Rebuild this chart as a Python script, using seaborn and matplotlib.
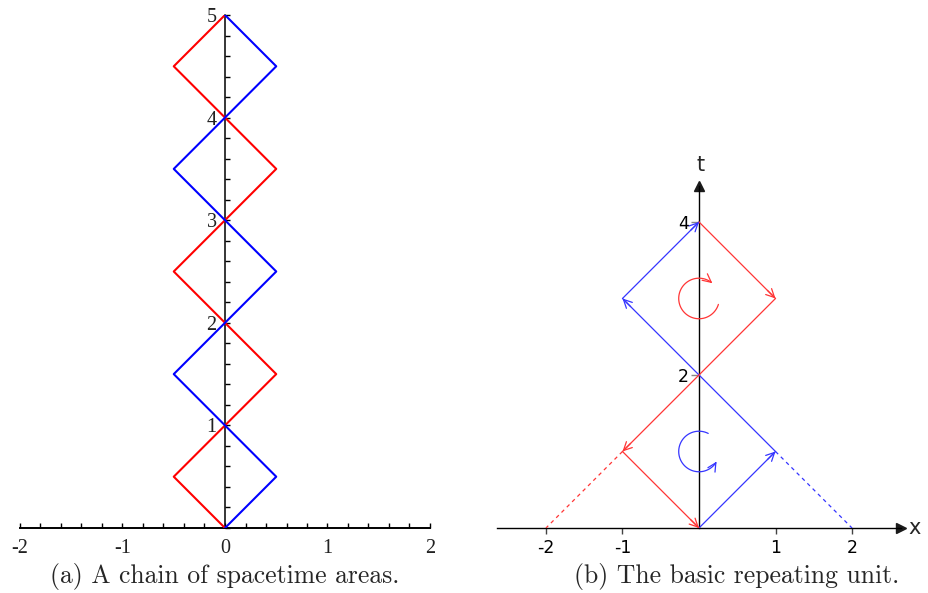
"""Spacetime chain of diamonds (a) and its basic repeating unit (b)."""
import matplotlib
matplotlib.use("Agg")
import matplotlib.pyplot as plt
from matplotlib.patches import FancyArrowPatch
from matplotlib.path import Path
from matplotlib.ticker import MultipleLocator
import numpy as np
import pandas as pd
import seaborn as sns

# (a) chain of diamonds, one per unit of t
CHAIN_LEVELS = [0, 1, 2, 3, 4]
CHAIN_LEFT_COLOR = ["red", "blue", "red", "blue", "red"]
CHAIN_RIGHT_COLOR = ["blue", "red", "blue", "red", "blue"]
CHAIN_HALF_WIDTH = 0.5

# (b) oriented edges of the repeating unit
UNIT_X0 = [0, 1, -1, 0, 1, -1]
UNIT_T0 = [0, 1, 3, 4, 3, 1]
UNIT_X1 = [1, -1, 0, 1, -1, 0]
UNIT_T1 = [1, 3, 4, 3, 1, 0]
UNIT_COLOR = ["blue", "blue", "blue", "red", "red", "red"]

# (b) dashed light-cone continuations
DASH_X0 = [-1, 1]
DASH_T0 = [1, 1]
DASH_X1 = [-2, 2]
DASH_T1 = [0, 0]
DASH_COLOR = ["red", "blue"]

# (b) circulation arrows
LOOP_T = [3, 1]
LOOP_COLOR = ["red", "blue"]
LOOP_START_DEG = [-17, 63]
LOOP_END_DEG = [-311, 330]
LOOP_RADIUS = 0.265

A_TICKS_X = [-2, -1, 0, 1, 2]
A_TICKS_T = [1, 2, 3, 4, 5]
B_TICKS_X = [-2, -1, 1, 2]
B_TICKS_T = [2, 4]

PAL_A = {"red": "#ff0000", "blue": "#0000ff"}
PAL_B = {"red": "#ff3535", "blue": "#3535ff"}

sns.set_theme(style="white")
plt.rcParams["font.family"] = ["DejaVu Sans"]

fig = plt.figure(figsize=(9.29, 5.93), dpi=100)
W, H = 929, 593

# ---------------- panel (a) ----------------
ax_a = fig.add_axes([20 / W, 65 / H, 410 / W, 513 / H])
rows = []
for k, cl, cr in zip(CHAIN_LEVELS, CHAIN_LEFT_COLOR, CHAIN_RIGHT_COLOR):
    for side, c in ((-1, cl), (1, cr)):
        seg = f"{k}{side}"
        for xv, tv in ((0, k), (side * CHAIN_HALF_WIDTH, k + CHAIN_HALF_WIDTH), (0, k + 1)):
            rows.append({"x": xv, "t": tv, "seg": seg, "color": c})
chain = pd.DataFrame(rows)
sns.lineplot(data=chain, x="x", y="t", units="seg", hue="color", palette=PAL_A,
             estimator=None, sort=False, legend=False, lw=1.5, ax=ax_a, zorder=3)

ax_a.set_xlim(-2, 2)
ax_a.set_ylim(0, 5)
for s in ("top", "right"):
    ax_a.spines[s].set_visible(False)
ax_a.spines["left"].set_position(("data", 0))
ax_a.spines["left"].set_linewidth(1.1)
ax_a.spines["bottom"].set_linewidth(1.4)
for s in ("left", "bottom"):
    ax_a.spines[s].set_color("black")
ax_a.set_xticks(A_TICKS_X)
ax_a.set_xticklabels([str(v) for v in A_TICKS_X])
ax_a.set_yticks(A_TICKS_T)
ax_a.set_yticklabels([str(v) for v in A_TICKS_T])
ax_a.xaxis.set_minor_locator(MultipleLocator(0.2))
ax_a.yaxis.set_minor_locator(MultipleLocator(0.2))
ax_a.tick_params(which="both", direction="in", length=3.5, width=1, color="black",
                 bottom=True, left=True)
ax_a.tick_params(axis="both", which="major", labelsize=14.5, labelcolor="#222222",
                 labelfontfamily="Liberation Serif")
ax_a.tick_params(axis="x", pad=8)
ax_a.tick_params(axis="y", pad=6)
ax_a.set_xlabel("")
ax_a.set_ylabel("")
ax_a.patch.set_alpha(0)

# ---------------- panel (b) ----------------
ax_b = fig.add_axes([497 / W, 65 / H, 404 / W, 342 / H])
unit = pd.DataFrame({
    "x": UNIT_X0 + UNIT_X1,
    "t": UNIT_T0 + UNIT_T1,
    "seg": list(range(len(UNIT_X0))) * 2,
    "color": UNIT_COLOR * 2,
})
sns.lineplot(data=unit, x="x", y="t", units="seg", hue="color", palette=PAL_B,
             estimator=None, sort=False, legend=False, lw=0.9, ax=ax_b, zorder=3)
dash = pd.DataFrame({
    "x": DASH_X0 + DASH_X1,
    "t": DASH_T0 + DASH_T1,
    "seg": list(range(len(DASH_X0))) * 2,
    "color": DASH_COLOR * 2,
})
sns.lineplot(data=dash, x="x", y="t", units="seg", hue="color", palette=PAL_B,
             estimator=None, sort=False, legend=False, lw=0.9, ax=ax_b,
             linestyle=(0, (3, 3)), zorder=3)

head = "->,head_length=0.6,head_width=0.3"
for x0, t0, x1, t1, c in zip(UNIT_X0, UNIT_T0, UNIT_X1, UNIT_T1, UNIT_COLOR):
    dx, dt = (x1 - x0), (t1 - t0)
    n = np.hypot(dx, dt)
    ax_b.annotate("", xy=(x1, t1), xytext=(x1 - 0.15 * dx / n, t1 - 0.15 * dt / n),
                  arrowprops=dict(arrowstyle=head, color=PAL_B[c], lw=0.9,
                                  shrinkA=0, shrinkB=0, mutation_scale=10),
                  zorder=4)

for tc, c, a0, a1 in zip(LOOP_T, LOOP_COLOR, LOOP_START_DEG, LOOP_END_DEG):
    ang = np.radians(np.linspace(a0, a1, 80))
    pts = np.column_stack([LOOP_RADIUS * np.cos(ang), tc + LOOP_RADIUS * np.sin(ang)])
    ax_b.add_patch(FancyArrowPatch(path=Path(pts), arrowstyle=head, mutation_scale=10,
                                   color=PAL_B[c], lw=0.9, zorder=4))

ax_b.set_xlim(-2.64, 2.64)
ax_b.set_ylim(0, 4.47)
for s in ("top", "right"):
    ax_b.spines[s].set_visible(False)
ax_b.spines["left"].set_position(("data", 0))
ax_b.spines["bottom"].set_position(("data", 0))
for s in ("left", "bottom"):
    ax_b.spines[s].set_color("black")
    ax_b.spines[s].set_linewidth(1.0)
ax_b.plot(1, 0, ">k", markersize=7, transform=ax_b.get_yaxis_transform(), clip_on=False)
ax_b.plot(0, 1, "^k", markersize=7, transform=ax_b.get_xaxis_transform(), clip_on=False)
ax_b.text(2.82, 0, "x", ha="center", va="center", fontsize=15)
ax_b.text(0.02, 4.75, "t", ha="center", va="center", fontsize=15)

ax_b.set_xticks(B_TICKS_X)
ax_b.set_xticklabels([str(v) for v in B_TICKS_X])
ax_b.set_yticks(B_TICKS_T)
ax_b.set_yticklabels([str(v) for v in B_TICKS_T])
ax_b.tick_params(axis="x", direction="out", length=4, width=1, color="#444444", pad=4,
                 bottom=True, labelsize=12.5, labelcolor="black")
ax_b.tick_params(axis="y", direction="out", length=6, width=1, color="#888888", pad=1.5,
                 left=True, labelsize=12.5, labelcolor="black")
ax_b.set_xlabel("")
ax_b.set_ylabel("")
ax_b.patch.set_alpha(0)

# ---------------- captions ----------------
fig.text(225 / W, 1 - 577 / H, "(a) A chain of spacetime areas.", ha="center", va="center",
         family="cmr10", fontsize=18.5)
fig.text(737 / W, 1 - 577 / H, "(b) The basic repeating unit.", ha="center", va="center",
         family="cmr10", fontsize=18.5)

fig.savefig("out.png", dpi=100)
